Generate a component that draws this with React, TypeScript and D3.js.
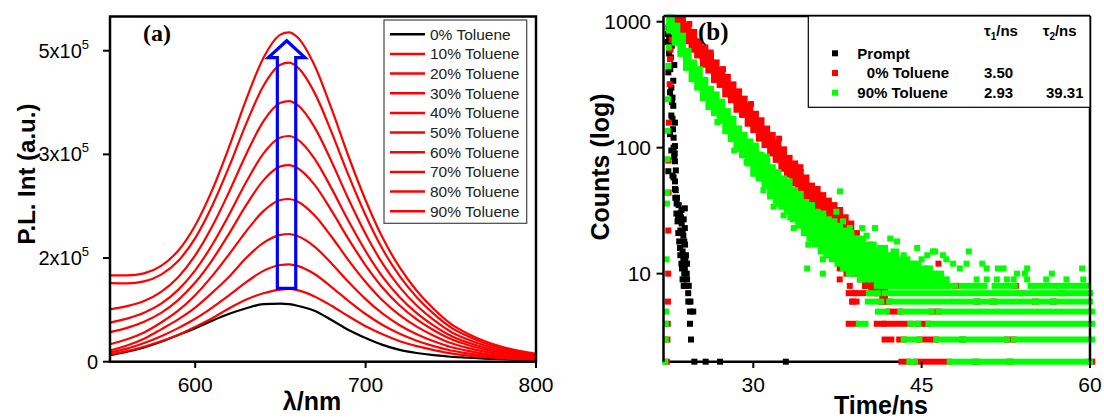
import React from 'react';
import * as d3 from 'd3';

// ---------------------------------------------------------------
// panel (a) : P.L. spectra, intensities in units of 1e5
// ---------------------------------------------------------------
const wavelengths = [550, 560, 570, 580, 590, 600, 610, 620, 630, 640, 650, 655, 660, 670, 680, 690, 700, 710, 720, 730, 740, 750, 760, 770, 780, 790, 800];

const pl0 = [0.105, 0.16, 0.23, 0.32, 0.43, 0.54, 0.66, 0.77, 0.86, 0.925, 0.935, 0.925, 0.9, 0.82, 0.67, 0.51, 0.38, 0.27, 0.19, 0.14, 0.105, 0.08, 0.065, 0.05, 0.04, 0.033, 0.027];
const pl10 = [0.12, 0.17, 0.24, 0.33, 0.43, 0.56, 0.7, 0.86, 1.0, 1.1, 1.16, 1.169, 1.15, 1.05, 0.9, 0.73, 0.57, 0.44, 0.33, 0.25, 0.187, 0.134, 0.099, 0.072, 0.053, 0.039, 0.028];
const pl20 = [0.15, 0.21, 0.3, 0.41, 0.54, 0.69, 0.87, 1.07, 1.28, 1.46, 1.555, 1.566, 1.54, 1.41, 1.2, 0.976, 0.767, 0.589, 0.448, 0.337, 0.25, 0.18, 0.133, 0.097, 0.07, 0.052, 0.038];
const pl30 = [0.18, 0.26, 0.37, 0.52, 0.68, 0.87, 1.11, 1.37, 1.67, 1.91, 2.04, 2.053, 2.02, 1.85, 1.58, 1.28, 1.006, 0.772, 0.587, 0.442, 0.328, 0.236, 0.175, 0.127, 0.092, 0.068, 0.049];
const pl40 = [0.28, 0.36, 0.47, 0.63, 0.82, 1.07, 1.38, 1.73, 2.1, 2.42, 2.6, 2.616, 2.577, 2.354, 2.009, 1.63, 1.282, 0.984, 0.748, 0.564, 0.419, 0.301, 0.222, 0.162, 0.118, 0.086, 0.063];
const pl50 = [0.475, 0.544, 0.643, 0.786, 0.991, 1.272, 1.635, 2.064, 2.52, 2.915, 3.14, 3.162, 3.115, 2.846, 2.428, 1.97, 1.549, 1.189, 0.904, 0.681, 0.506, 0.364, 0.269, 0.196, 0.142, 0.104, 0.076];
const pl60 = [0.628, 0.692, 0.786, 0.933, 1.155, 1.469, 1.88, 2.369, 2.892, 3.346, 3.604, 3.629, 3.575, 3.266, 2.787, 2.261, 1.778, 1.364, 1.038, 0.782, 0.581, 0.417, 0.308, 0.225, 0.163, 0.12, 0.087];
const pl70 = [0.842, 0.893, 0.976, 1.123, 1.358, 1.708, 2.176, 2.737, 3.34, 3.864, 4.162, 4.191, 4.128, 3.772, 3.219, 2.611, 2.054, 1.576, 1.199, 0.903, 0.671, 0.482, 0.356, 0.26, 0.189, 0.138, 0.101];
const pl80 = [1.263, 1.26, 1.291, 1.4, 1.62, 1.988, 2.508, 3.142, 3.831, 4.432, 4.773, 4.807, 4.735, 4.326, 3.692, 2.995, 2.355, 1.807, 1.375, 1.036, 0.769, 0.553, 0.409, 0.298, 0.216, 0.159, 0.115];
const pl90 = [1.388, 1.387, 1.421, 1.541, 1.784, 2.191, 2.762, 3.462, 4.221, 4.883, 5.259, 5.296, 5.217, 4.766, 4.067, 3.299, 2.595, 1.991, 1.515, 1.141, 0.847, 0.609, 0.45, 0.328, 0.238, 0.175, 0.127];

const spectra = [pl0, pl10, pl20, pl30, pl40, pl50, pl60, pl70, pl80, pl90];
const spectraLabels = ['0% Toluene', '10% Toluene', '20% Toluene', '30% Toluene', '40% Toluene',
  '50% Toluene', '60% Toluene', '70% Toluene', '80% Toluene', '90% Toluene'];

// axis ticks of panel (a) (labels as printed on the figure)
const plTicks = [0, 5 / 3, 10 / 3, 5];
const plTickMantissa = ['0', '2', '3', '5'];
const lambdaTicks = [600, 700, 800];

// blue arrow (nm, 1e5)
const arrowShaft = [648.2, 659.0];
const arrowHead = [642.9, 664.4];
const arrowTipLambda = 653.7;
const arrowBase = 1.18;
const arrowNeck = 4.89;
const arrowTip = 5.16;

// ---------------------------------------------------------------
// panel (b) : decay curves
// points are [time ns, counts]; bands are [time ns, low counts, high counts]
// ---------------------------------------------------------------
const promptPts = [
  [22.35, 690], [22.4, 800], [22.43, 396], [22.58, 275], [22.58, 128], [22.43, 65], [22.73, 645],
  [22.87, 340], [22.87, 215], [22.96, 453], [23.02, 158], [23.02, 103], [23.02, 78], [23.02, 54],
  [23.02, 47], [23.09, 46], [23.17, 36], [23.47, 30], [23.9, 33], [23.62, 25], [23.32, 21],
  [23.77, 20], [23.47, 16], [23.92, 17], [23.77, 13], [24.07, 10], [23.92, 8], [24.21, 6],
  [24.36, 5], [24.65, 5], [24.36, 4], [24.45, 3], [24.75, 2], [25.76, 2], [27.04, 2], [32.9, 2],
  [23.3, 28], [23.6, 32], [23.8, 27], [23.5, 22], [23.9, 23], [23.4, 18], [23.7, 15], [24.0, 14],
  [23.6, 12], [23.9, 11], [24.1, 9], [24.0, 8], [23.8, 8], [24.2, 7], [23.0, 90], [22.9, 120],
  [22.7, 180], [22.8, 250], [22.65, 520], [22.5, 560], [23.1, 66], [23.2, 40], [24.4, 6],
  [22.45, 900], [22.5, 750], [22.6, 420], [22.7, 300], [22.75, 230], [22.8, 170], [22.85, 140],
  [22.9, 100], [22.95, 85], [22.7, 95], [22.8, 60], [22.9, 58], [23.05, 40], [23.15, 30],
  [23.25, 26], [23.35, 35], [23.55, 28], [23.7, 21], [23.85, 18], [23.95, 13], [23.65, 11],
  [23.85, 10], [23.7, 9], [24.1, 12], [23.5, 14], [24.25, 8]
];

const redRise = [
  [22.3, 2], [22.35, 3], [22.38, 4], [22.4, 6], [22.42, 10], [22.43, 22], [22.45, 44], [22.45, 79],
  [22.48, 158], [22.55, 319], [22.58, 505], [22.62, 600], [22.72, 720], [22.85, 860]
];
const redBand = [
  [23.0, 860, 1060], [23.5, 800, 1050], [24.0, 700, 930], [24.5, 600, 830], [25.0, 540, 700],
  [25.5, 455, 625], [26.0, 410, 540], [26.5, 345, 475], [27.0, 315, 415], [27.5, 265, 365],
  [28.0, 238, 318], [28.5, 200, 280], [29.0, 182, 245], [29.5, 155, 215], [30.0, 138, 186],
  [30.5, 118, 165], [31.0, 105, 142], [31.5, 90, 126], [32.0, 80, 110], [32.5, 68, 97],
  [33.0, 61, 83], [33.5, 52, 75], [34.0, 46, 64], [34.5, 40, 58], [35.0, 35, 50],
  [35.5, 30, 47], [36.0, 27, 42], [36.5, 24, 38], [37.0, 21, 35], [37.5, 18, 32],
  [38.0, 15, 28], [38.5, 12, 25], [39.0, 10, 21], [39.5, 9, 18], [40.0, 8, 16],
  [40.5, 7, 14], [41.0, 7, 12], [41.5, 6, 11]
];
const redExtra = [
  [35.95, 41], [36.1, 35], [36.5, 30], [37.2, 27], [38.3, 22], [38.6, 23], [37.7, 11], [37.7, 9],
  [39.1, 10], [38.6, 8], [40.1, 8], [41.0, 8], [41.6, 7], [39.1, 7], [38.9, 6], [38.9, 11],
  [40.6, 10], [42.2, 10], [44.0, 11], [46.5, 12], [38.3, 10], [39.5, 12], [27.3, 420], [29.8, 222],
  [32.3, 118], [34.2, 70], [24.3, 960], [26.2, 570]
];
// horizontal runs of equal counts in the tail: [counts, t start, t end]
const redRuns = [
  [8, 39.95, 41.4], [8, 48.0, 48.1], [8, 53.3, 53.4],
  [7, 38.5, 40.3], [7, 41.1, 41.7], [7, 53.8, 53.9], [7, 57.5, 57.6],
  [6, 38.8, 39.2], [6, 41.4, 42.1], [6, 49.9, 50.0], [6, 51.3, 51.5], [6, 55.1, 55.2], [6, 56.7, 56.8],
  [5, 42.1, 43.1], [5, 45.9, 46.5],
  [4, 38.5, 39.1], [4, 41.0, 41.6], [4, 41.7, 44.0], [4, 44.7, 45.6],
  [3, 41.7, 42.3], [3, 43.0, 43.4], [3, 44.8, 46.3], [3, 48.6, 48.7], [3, 52.6, 53.2],
  [2, 43.2, 43.8], [2, 44.5, 47.4], [2, 49.8, 49.9], [2, 52.8, 52.9], [2, 60.0, 60.2]
];

const greenRise = [
  [22.15, 2], [22.2, 3], [22.22, 4], [22.25, 5], [22.27, 13], [22.3, 36], [22.33, 44], [22.35, 81],
  [22.38, 136], [22.4, 242], [22.43, 445], [22.47, 626], [22.55, 956]
];
const greenBand = [
  [22.5, 850, 1080], [23.0, 680, 930], [23.5, 555, 775], [24.0, 430, 585], [24.5, 350, 475],
  [25.0, 300, 420], [25.5, 248, 345], [26.0, 210, 292], [26.5, 188, 265], [27.0, 163, 232],
  [27.5, 135, 195], [28.0, 117, 170], [28.5, 98, 142], [29.0, 87, 126], [29.5, 75, 112],
  [30.0, 67, 104], [30.5, 57, 88], [31.0, 50, 80], [31.5, 43, 70], [32.0, 38, 64],
  [32.5, 34, 57], [33.0, 31, 54], [33.5, 27, 46], [34.0, 24, 43], [34.5, 21, 37],
  [35.0, 19, 35], [35.5, 17, 31], [36.0, 15, 30], [36.5, 14, 27], [37.0, 13, 26],
  [37.5, 12, 24], [38.0, 11, 22], [38.5, 10, 21], [39.0, 10, 19], [39.5, 9, 19],
  [40.0, 9, 17], [40.5, 9, 17], [41.0, 8, 15], [41.5, 8, 16], [42.0, 8, 14],
  [42.5, 8, 15], [43.0, 8, 13], [43.5, 8, 13], [44.0, 8, 12], [44.5, 8, 12],
  [45.0, 8, 11], [45.5, 8, 11], [46.0, 8, 10], [46.5, 8, 10], [47.0, 8, 9]
];
const greenExtra = [
  [29.4, 77], [30.0, 62], [30.9, 46], [31.5, 41], [31.8, 34], [32.2, 36], [32.7, 29], [33.0, 40],
  [33.3, 28], [33.6, 23], [34.2, 31], [34.6, 23], [34.9, 17], [34.8, 11], [35.0, 30], [35.5, 24],
  [35.9, 18], [36.2, 13], [36.2, 10], [36.5, 19], [36.8, 16], [37.4, 31], [37.7, 20], [37.73, 45],
  [38.0, 26], [38.3, 14], [38.6, 23], [39.0, 19], [39.2, 17], [39.7, 23], [40.1, 20], [40.5, 17],
  [40.85, 23], [41.0, 14], [41.3, 16], [42.2, 19], [42.8, 18], [43.0, 12], [43.4, 14], [44.0, 12],
  [44.6, 16], [45.0, 13], [45.5, 14], [46.0, 15], [46.2, 15], [46.9, 14], [47.2, 13], [47.8, 12],
  [48.4, 11], [49.0, 12], [49.2, 15], [49.9, 9], [50.4, 12], [50.8, 11], [50.8, 9], [51.7, 9],
  [51.8, 11], [52.3, 11], [52.6, 9], [53.2, 9], [53.5, 10], [54.2, 10], [54.4, 11], [54.4, 9],
  [56.1, 9], [56.6, 10], [57.9, 9], [59.3, 11], [59.4, 9], [26.8, 160], [28.3, 95], [31.2, 85]
];
const greenRuns = [
  [8, 41.4, 48.0], [8, 48.6, 50.6], [8, 51.5, 53.3], [8, 54.7, 57.0], [8, 57.3, 57.8], [8, 58.2, 59.8],
  [7, 40.3, 41.1], [7, 41.7, 53.8], [7, 53.9, 57.5], [7, 57.6, 60.0],
  [6, 40.2, 41.4], [6, 42.1, 49.9], [6, 50.0, 51.3], [6, 51.5, 55.1], [6, 55.2, 56.7], [6, 56.8, 60.0],
  [5, 41.1, 41.9], [5, 43.1, 45.9], [5, 46.5, 60.2],
  [4, 39.4, 40.0], [4, 44.0, 44.7], [4, 45.6, 60.2],
  [3, 43.4, 44.8], [3, 46.3, 48.6], [3, 48.7, 52.6], [3, 53.2, 60.2],
  [2, 43.9, 44.4], [2, 47.5, 49.8], [2, 49.9, 52.8], [2, 52.9, 60.0]
];

const timeTicks = [30, 45, 60];
const countTicks = [10, 100, 1000];

const decayLegend = [
  { label: 'Prompt', tau1: '', tau2: '', color: '#000000', indent: 0 },
  { label: '0% Toluene', tau1: '3.50', tau2: '', color: '#ff0000', indent: 9.5 },
  { label: '90% Toluene', tau1: '2.93', tau2: '39.31', color: '#00ff00', indent: 0 }
];

const SANS = 'Liberation Sans, Arial, Helvetica, sans-serif';
const SERIF = 'Liberation Serif, Times New Roman, serif';

export default function App() {
  // panel (a) scales
  const xA = d3.scaleLinear().domain([550, 800]).range([110, 536]);
  const yA = d3.scaleLinear().domain([0, 5.55]).range([361.7, 16.5]);
  const line = d3.line<number>()
    .x((_, i) => xA(wavelengths[i]))
    .y(d => yA(d))
    .curve(d3.curveMonotoneX);

  // panel (b) scales
  const xB = d3.scaleLinear().domain([22, 60]).range([663.5, 1090]);
  const yB = d3.scaleLog().domain([2, 1110]).range([361.7, 16]);
  const M = 6; // marker size

  const squares = (pts: number[][], color: string, key: string) =>
    pts.map((p, i) => (
      <rect key={key + i} x={xB(p[0]) - M / 2} y={yB(p[1]) - M / 2} width={M} height={M} fill={color} />
    ));
  const runs = (rs: number[][], color: string, key: string) =>
    rs.map((r, i) => (
      <rect key={key + i} x={xB(r[1]) - M / 2} y={yB(r[0]) - M / 2}
        width={xB(r[2]) - xB(r[1]) + M} height={M} fill={color} />
    ));
  // dense decay: each window spans from its time to the next window's time
  const band = (bs: number[][], color: string, key: string) =>
    bs.map((b, i) => {
      const next = i < bs.length - 1 ? bs[i + 1][0] : b[0] + (b[0] - bs[i - 1][0]);
      return (
        <rect key={key + i} x={xB(b[0]) - M / 2} y={yB(b[2]) - M / 2}
          width={xB(next) - xB(b[0]) + M / 2} height={yB(b[1]) - yB(b[2]) + M} fill={color} />
      );
    });

  const arrowPts = [
    [xA(arrowShaft[0]), yA(arrowBase)],
    [xA(arrowShaft[0]), yA(arrowNeck)],
    [xA(arrowHead[0]), yA(arrowNeck)],
    [xA(arrowTipLambda), yA(arrowTip)],
    [xA(arrowHead[1]), yA(arrowNeck)],
    [xA(arrowShaft[1]), yA(arrowNeck)],
    [xA(arrowShaft[1]), yA(arrowBase)]
  ];

  const [a0, a1] = xA.range();
  const [b0, b1] = xB.range();

  return (
    <svg width={1104} height={420} style={{ position: 'absolute', left: 0, top: 0, background: '#fff' }}
      fontFamily={SANS}>
      {/* ---------------- panel (a) ---------------- */}
      <g>
        {spectra.map((s, i) => (
          <path key={'pl' + i} d={line(s) || ''} fill="none"
            stroke={i === 0 ? '#000000' : '#ff0000'} strokeWidth={2.2} />
        ))}
        <polygon points={arrowPts.map(p => p.join(',')).join(' ')} fill="none" stroke="#0000ff"
          strokeWidth={3.2} strokeLinejoin="miter" />
        <rect x={a0} y={16.5} width={a1 - a0} height={361.7 - 16.5} fill="none" stroke="#000" strokeWidth={2.5} />
        {lambdaTicks.map(t => (
          <g key={'lt' + t}>
            <line x1={xA(t)} x2={xA(t)} y1={361.7} y2={368} stroke="#000" strokeWidth={2} />
            <text x={xA(t)} y={392} textAnchor="middle" fontSize={21}>{t}</text>
          </g>
        ))}
        {plTicks.map((v, i) => (
          <g key={'pt' + i}>
            <line x1={103} x2={110} y1={yA(v)} y2={yA(v)} stroke="#000" strokeWidth={2} />
            {i === 0 ? (
              <text x={98} y={yA(v) + 7} textAnchor="end" fontSize={20}>0</text>
            ) : (
              <text x={89} y={yA(v) + 7} textAnchor="end" fontSize={20}>
                {plTickMantissa[i]}x10<tspan dy={-9} fontSize={13}>5</tspan>
              </text>
            )}
          </g>
        ))}
        <text x={143} y={41} fontFamily={SERIF} fontWeight="bold" fontSize={24}>(a)</text>
        <text transform="translate(35,174) rotate(-90)" textAnchor="middle" fontWeight="bold" fontSize={24}>
          P.L. Int (a.u.)
        </text>
        <text x={312} y={410} textAnchor="middle" fontWeight="bold" fontSize={25}>λ/nm</text>

        {/* legend (a) */}
        <rect x={384} y={20} width={142.7} height={203.3} fill="#fff" stroke="#444" strokeWidth={1.2} />
        {spectraLabels.map((lab, i) => (
          <g key={'lg' + i}>
            <line x1={390} x2={425} y1={34.3 + i * 19.66} y2={34.3 + i * 19.66}
              stroke={i === 0 ? '#000' : '#ff0000'} strokeWidth={2.5} />
            <text x={430} y={34.3 + i * 19.66} dy="0.35em" fontSize={15.5} fill="#222">{lab}</text>
          </g>
        ))}
      </g>

      {/* ---------------- panel (b) ---------------- */}
      <g>
        <line x1={b0} x2={b1} y1={361.7} y2={361.7} stroke="#000" strokeWidth={2.5} />
        {squares(promptPts, '#000000', 'bk')}
        {squares(redRise, '#ff0000', 'rr')}
        {band(redBand, '#ff0000', 'rb')}
        {squares(redExtra, '#ff0000', 're')}
        {runs(redRuns, '#ff0000', 'rn')}
        {squares(greenRise, '#00ff00', 'gr')}
        {band(greenBand, '#00ff00', 'gb')}
        {squares(greenExtra, '#00ff00', 'ge')}
        {runs(greenRuns, '#00ff00', 'gn')}
        <line x1={b0} x2={b0} y1={16} y2={361.7} stroke="#000" strokeWidth={2.5} />
        <line x1={b0} x2={b1} y1={16} y2={16} stroke="#000" strokeWidth={2.5} />
        <line x1={b1} x2={b1} y1={16} y2={361.7} stroke="#000" strokeWidth={2.5} />
        {timeTicks.map(t => (
          <g key={'tt' + t}>
            <line x1={xB(t)} x2={xB(t)} y1={361.7} y2={368} stroke="#000" strokeWidth={2} />
            <text x={xB(t)} y={392} textAnchor="middle" fontSize={21}>{t}</text>
          </g>
        ))}
        {countTicks.map(c => (
          <g key={'ct' + c}>
            <line x1={656.5} x2={663.5} y1={yB(c)} y2={yB(c)} stroke="#000" strokeWidth={2} />
            <text x={651} y={yB(c)} dy="0.36em" textAnchor="end" fontSize={21}>{c}</text>
          </g>
        ))}
        <text x={698} y={40} fontFamily={SERIF} fontWeight="bold" fontSize={25}>(b)</text>
        <text transform="translate(609,167) rotate(-90)" textAnchor="middle" fontWeight="bold" fontSize={25}>
          Counts (log)
        </text>
        <text x={881} y={414} textAnchor="middle" fontWeight="bold" fontSize={25}>Time/ns</text>

        {/* legend (b) */}
        <rect x={808.3} y={16} width={1090 - 808.3} height={91.3} fill="#fff" stroke="#000" strokeWidth={1.2} />
        <text x={984} y={30.7} dy="0.35em" fontWeight="bold" fontSize={15}>
          τ<tspan dy={4} fontSize={10}>1</tspan><tspan dy={-4}>/ns</tspan>
        </text>
        <text x={1042.7} y={30.7} dy="0.35em" fontWeight="bold" fontSize={15}>
          τ<tspan dy={4} fontSize={10}>2</tspan><tspan dy={-4}>/ns</tspan>
        </text>
        {decayLegend.map((r, i) => {
          const y = 53.3 + i * 19.7;
          return (
            <g key={'dl' + i}>
              <rect x={832} y={y - 3} width={6} height={6} fill={r.color} />
              <text x={857.3 + r.indent} y={y} dy="0.35em" fontWeight="bold" fontSize={15}>{r.label}</text>
              <text x={984} y={y} dy="0.35em" fontWeight="bold" fontSize={15}>{r.tau1}</text>
              <text x={1046} y={y} dy="0.35em" fontWeight="bold" fontSize={15}>{r.tau2}</text>
            </g>
          );
        })}
      </g>
    </svg>
  );
}
